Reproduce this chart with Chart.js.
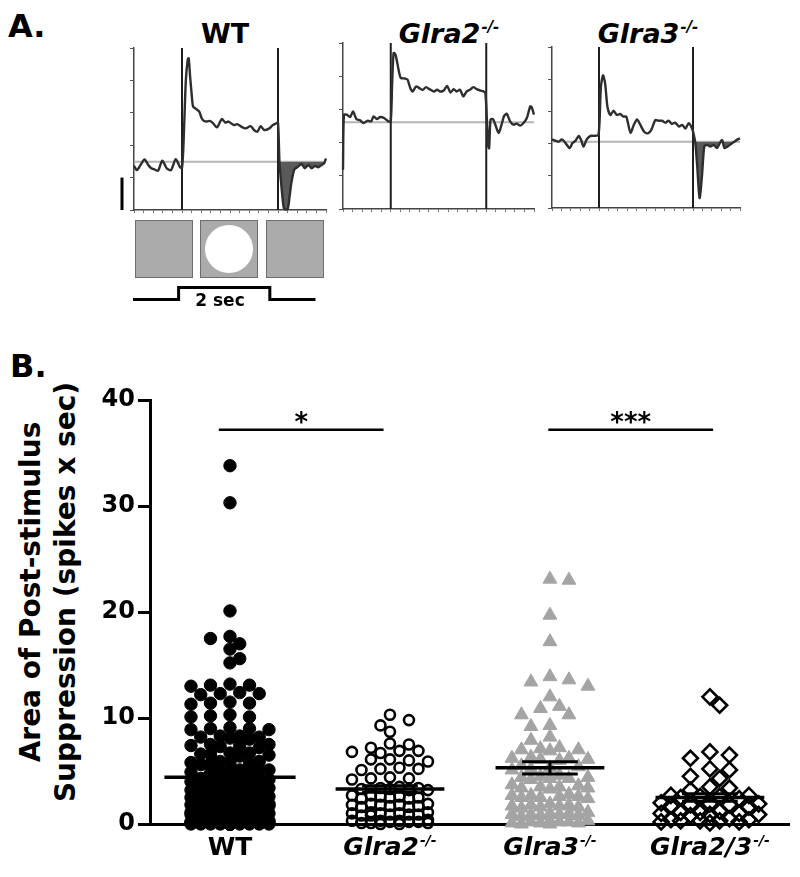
<!DOCTYPE html>
<html>
<head>
<meta charset="utf-8">
<title>Post-stimulus suppression</title>
<script src="https://cdn.jsdelivr.net/npm/chart.js@4.4.1/dist/chart.umd.min.js"></script>
<style>
  html, body { margin:0; padding:0; background:#fff; }
  body { width:800px; height:877px; position:relative; overflow:hidden;
         font-family:'DejaVu Sans', sans-serif; font-weight:bold; color:#000; }
  canvas { position:absolute; }
  .t { position:absolute; white-space:nowrap; line-height:1; }
  .c { text-align:center; }
  .sup { font-size:15px; position:relative; top:-11px; margin-left:1px; }
  .sq { position:absolute; top:220px; width:58px; height:58px; box-sizing:border-box;
        background:#ababab; border:1px solid #6e6e6e; }
  .dot { position:absolute; left:4px; top:4px; width:48px; height:48px; border-radius:50%; background:#fff; }
</style>
</head>
<body>
<div class="t" style="left:8px;top:10px;font-size:32px;">A.</div>
<div class="t c" style="left:125px;width:200px;top:20px;font-size:27px;">WT</div>
<div class="t c" style="left:349px;width:200px;top:20px;font-size:27px;font-style:italic;">Glra2<span class="sup">-/-</span></div>
<div class="t c" style="left:548px;width:200px;top:20px;font-size:27px;font-style:italic;">Glra3<span class="sup">-/-</span></div>

<canvas id="cWT"></canvas>
<canvas id="cG2"></canvas>
<canvas id="cG3"></canvas>

<div class="sq" style="left:135px;"></div>
<div class="sq" style="left:200px;"><div class="dot"></div></div>
<div class="sq" style="left:266px;"></div>
<canvas id="cStim"></canvas>
<div class="t c" style="left:170px;width:100px;top:292px;font-size:17px;">2 sec</div>

<div class="t" style="left:10px;top:350px;font-size:32px;">B.</div>
<div class="t c" style="left:-172px;top:557px;width:440px;height:70px;font-size:28px;line-height:35px;transform:rotate(-90deg);">Area of Post-stimulus<br>Suppression (spikes x sec)</div>
<canvas id="cB"></canvas>

<script>
// ================= DATA =================
// ---- Panel A: PSTH traces (time in s, rate in arbitrary spike-rate units) ----
const stimOn = 0, stimOff = 2;
const traceXMin = -1, traceXMax = 3;
const traceYMin = 0, traceYMax = 50;
const scaleBarValue = 10;

const wtTime = [-1.00,-0.94,-0.86,-0.78,-0.70,-0.64,-0.57,-0.50,-0.41,-0.32,-0.23,-0.13,-0.04,0.00,0.03,0.08,0.12,0.14,0.17,0.20,0.23,0.29,0.36,0.41,0.46,0.52,0.58,0.64,0.73,0.83,0.90,0.97,1.08,1.15,1.26,1.33,1.43,1.50,1.57,1.64,1.71,1.82,1.89,1.96,2.00,2.03,2.06,2.10,2.13,2.20,2.24,2.28,2.34,2.42,2.49,2.56,2.63,2.70,2.77,2.84,2.91,2.96,3.00];
const wtRate = [13.6,12.3,14.0,15.6,13.8,12.9,12.5,12.1,15.2,12.9,12.3,15.7,13.2,13.0,20.0,40.0,46.5,46.8,41.0,36.0,32.0,31.2,30.4,28.3,27.5,27.3,27.5,26.9,25.5,28.1,27.0,27.3,26.2,26.5,25.5,25.2,25.9,24.7,24.2,25.9,24.7,25.2,26.2,26.7,27.0,15.0,9.3,3.0,0.3,0.3,4.0,8.5,12.5,13.4,14.2,12.9,13.9,12.9,13.6,13.2,13.9,14.4,15.9];
const wtBaseline = 14.9;

const glra2Time = [-1.00,-0.98,-0.92,-0.85,-0.79,-0.72,-0.64,-0.57,-0.48,-0.41,-0.36,-0.29,-0.22,-0.14,-0.05,0.00,0.03,0.06,0.10,0.17,0.21,0.30,0.35,0.41,0.46,0.53,0.60,0.67,0.74,0.81,0.90,0.97,1.04,1.11,1.18,1.25,1.32,1.38,1.45,1.52,1.59,1.66,1.73,1.80,1.87,1.94,1.98,2.01,2.04,2.06,2.09,2.14,2.19,2.26,2.33,2.37,2.43,2.50,2.57,2.64,2.71,2.78,2.85,2.92,2.95,3.00];
const glra2Rate = [11.8,28.4,28.4,27.7,29.4,27.1,26.7,25.9,26.6,26.4,27.9,27.1,27.7,27.4,26.4,26.4,38.0,47.0,46.5,41.5,39.5,39.3,39.0,36.4,35.4,36.9,36.4,35.9,36.7,36.1,35.4,35.9,35.4,35.7,37.1,35.1,36.1,35.4,35.9,33.9,35.4,35.9,36.7,36.1,35.7,35.4,35.1,28.0,19.0,18.3,26.9,27.1,25.4,22.9,25.9,27.9,28.7,26.4,25.4,25.7,25.1,25.9,27.4,30.9,30.7,28.4];
const glra2Baseline = 26.1;

const glra3Time = [-1.00,-0.93,-0.86,-0.79,-0.72,-0.62,-0.57,-0.50,-0.43,-0.38,-0.33,-0.26,-0.18,-0.11,-0.01,0.04,0.085,0.13,0.18,0.24,0.31,0.38,0.45,0.52,0.58,0.67,0.74,0.81,0.88,0.96,1.04,1.11,1.20,1.27,1.34,1.41,1.48,1.55,1.62,1.70,1.77,1.84,1.91,1.98,2.01,2.05,2.09,2.14,2.19,2.24,2.30,2.37,2.44,2.51,2.57,2.62,2.67,2.74,2.81,2.88,2.95,3.00];
const glra3Rate = [21.3,20.9,20.6,21.3,20.3,18.6,20.1,20.9,22.4,21.1,19.1,21.3,22.4,22.4,22.7,37.6,41.2,38.7,31.4,28.9,30.2,28.9,29.2,28.4,28.4,23.4,25.8,27.5,25.8,23.7,23.2,24.2,27.3,27.1,27.1,26.5,27.1,26.1,26.5,25.3,25.8,24.7,26.3,24.7,23.2,20.1,12.9,3.1,9.8,19.1,19.6,19.1,19.6,18.6,20.1,21.1,18.6,19.1,19.9,20.6,21.3,21.6];
const glra3Baseline = 20.6;

// stimulus timing schematic
const stimTime = [-1, 0, 2, 3];
const stimLevel = [0, 1, 0, 0];

// ---- Panel B: area of post-stimulus suppression (spikes x sec) ----
const groups = ['WT', 'Glra2', 'Glra3', 'Glra2/3'];
const groupSup = ['', '-/-', '-/-', '-/-'];
const yTicksB = [0, 10, 20, 30, 40];

const wtValues = [
 33.8, 30.3, 20.1, 17.7, 17.5, 17.0, 16.5, 15.6, 15.2,
 13.1, 13.2, 13.0, 13.1, 12.3, 12.4, 12.2, 12.3, 11.4, 11.5, 11.3, 11.4,
 10.2, 10.1, 10.3, 10.1, 9.0, 9.1, 8.9, 9.0, 8.9,
 8.2, 8.3, 8.1, 8.2, 8.0, 8.3, 7.4, 7.5, 7.3, 7.4, 7.2, 7.5,
 6.6, 6.7, 6.5, 6.6, 6.4, 6.7, 5.8, 5.9, 5.7, 5.8, 5.6, 5.9, 5.7,
 5.0, 5.1, 4.9, 5.0, 4.8, 5.1, 4.9, 5.0, 4.2, 4.3, 4.1, 4.2, 4.0, 4.3, 4.1, 4.2, 4.0,
 3.4, 3.5, 3.3, 3.4, 3.2, 3.5, 3.3, 3.4, 3.2, 3.3,
 2.6, 2.7, 2.5, 2.6, 2.4, 2.7, 2.5, 2.6, 2.4, 2.5, 2.6, 2.5,
 1.8, 1.9, 1.7, 1.8, 1.6, 1.9, 1.7, 1.8, 1.6, 1.7, 1.8, 1.9, 1.7, 1.8,
 1.0, 1.1, 0.9, 1.0, 0.8, 1.1, 0.9, 1.0, 0.8, 0.9, 1.0, 1.1, 0.9, 1.0, 0.8, 1.0,
 0.3, 0.2, 0.4, 0.1, 0.3, 0.2, 0.0, 0.1, 0.3, 0.2, 0.0, 0.1, 0.2, 0.3, 0.0, 0.1, 0.2, 0.0, 0.1, 0.2,
 0.0, 0.1, 0.0, 0.2, 0.1, 0.0, 0.1, 0.0, 0.2, 0.0, 0.1, 0.0, 0.1, 0.0, 0.0, 0.1, 0.0, 0.0, 0.1, 0.0,
 0.0, 0.1, 0.0, 0.0, 0.1
];
const glra2Values = [
 10.3, 9.8, 9.3, 8.7,
 7.6, 7.5, 7.2, 6.9, 6.8, 6.9, 6.7, 6.1, 6.0, 6.1, 5.9,
 5.3, 5.2, 5.2, 5.1, 4.4, 4.3, 4.2, 4.3,
 3.4, 3.3, 3.5, 3.2, 3.3, 3.4, 3.2,
 2.6, 2.5, 2.7, 2.4, 2.6, 2.5, 2.7, 2.4,
 1.8, 1.7, 1.9, 1.6, 1.8, 1.7, 1.9, 1.6, 1.8,
 1.0, 0.9, 1.1, 0.8, 1.0, 0.9, 1.1, 0.8, 1.0, 0.9,
 0.3, 0.2, 0.4, 0.1, 0.3, 0.2, 0.0, 0.1, 0.3, 0.2, 0.0, 0.1
];
const glra3Values = [
 23.0, 23.1, 19.7, 17.2, 13.9, 13.6, 13.4, 13.0, 12.0, 11.1, 10.9, 10.3, 10.3, 9.3, 9.2,
 8.2, 7.9,
 7.1, 7.0, 7.2, 6.9, 7.0, 6.2, 6.1, 6.3, 6.0, 6.2, 6.1,
 5.4, 5.2, 5.3, 5.5, 5.1, 4.5, 4.3, 4.4, 4.6, 4.2, 4.4, 4.3,
 3.6, 3.4, 3.5, 3.7, 3.3, 3.5, 3.4, 2.7, 2.5, 2.6, 2.8, 2.4, 2.6, 2.5, 2.7,
 1.8, 1.6, 1.7, 1.9, 1.5, 1.7, 1.8, 1.6,
 0.9, 0.8, 1.0, 0.7, 1.1, 0.9, 0.8, 1.0, 0.9,
 0.2, 0.1, 0.3, 0.0, 0.2, 0.1, 0.3, 0.0, 0.2, 0.1
];
const glra23Values = [
 12.0, 11.2, 6.8, 6.5, 6.2, 5.2, 5.1, 4.5, 4.3, 3.5, 3.2, 3.4,
 2.7, 2.5, 2.6, 2.4, 2.6, 2.7,
 1.9, 1.7, 1.8, 2.0, 1.6, 1.8, 1.9,
 1.1, 0.9, 1.0, 1.2, 0.8, 1.0, 1.1, 0.9,
 0.4, 0.2, 0.3, 0.5, 0.1, 0.3, 0.2, 0.4, 0.3
];
const groupMeans = [4.4, 3.3, 5.3, 2.5];
const groupSEM = [0.35, 0.3, 0.58, 0.35];

// significance comparisons (category coordinates) and labels
const sigFrom = [-0.07, 1.99];
const sigTo = [0.96, 3.02];
const sigLabels = ['*', '***'];
const sigLevel = 37.2;

// ================= STYLE =================
Chart.defaults.font.family = "'DejaVu Sans', sans-serif";
Chart.defaults.animation = false;
Chart.defaults.events = [];
Chart.defaults.plugins.legend.display = false;
Chart.defaults.plugins.tooltip.enabled = false;

const FONT = "'DejaVu Sans', sans-serif";

// ================= PANEL A =================
function traceChart(id, box, time, rate, base, opt) {
  const cv = document.getElementById(id);
  const padL = opt.padL;
  cv.width = padL + box.w + 5;
  cv.height = 4 + box.h + 6;
  cv.style.left = (box.x - padL) + 'px';
  cv.style.top = (box.y - 4) + 'px';
  const pts = time.map((t, i) => ({x: t, y: rate[i]}));
  const ds = [
    {data: pts, borderColor: '#2e2e2e', borderWidth: 2.4, tension: 0.25, order: 0},
    {data: [{x: stimOn, y: traceYMin}, {x: stimOn, y: traceYMax}], borderColor: '#1e1e1e', borderWidth: 2, order: 1},
    {data: [{x: stimOff, y: traceYMin}, {x: stimOff, y: traceYMax}], borderColor: '#1e1e1e', borderWidth: 2, order: 1},
    {data: [{x: traceXMin, y: base}, {x: traceXMax, y: base}], borderColor: '#b5b5b5', borderWidth: 2, order: 3}
  ];
  if (opt.fill) {
    ds.push({data: pts.filter(p => p.x >= stimOff), borderWidth: 0, borderColor: 'rgba(0,0,0,0)',
      tension: 0.25, order: 2,
      fill: {target: {value: base}, above: 'rgba(0,0,0,0)', below: '#5a5a5a'}});
  }
  ds.forEach(d => { d.pointRadius = 0; d.clip = false; });
  const plugins = [];
  if (opt.scaleBar) {
    plugins.push({
      id: 'scaleBar',
      afterDraw(chart) {
        const {ctx, chartArea, scales: {y}} = chart;
        const x = chartArea.left - 12;
        ctx.save();
        ctx.strokeStyle = '#000';
        ctx.lineWidth = 3;
        ctx.beginPath();
        ctx.moveTo(x, y.getPixelForValue(0));
        ctx.lineTo(x, y.getPixelForValue(scaleBarValue));
        ctx.stroke();
        ctx.restore();
      }
    });
  }
  return new Chart(cv, {
    type: 'line',
    data: {datasets: ds},
    plugins,
    options: {
      responsive: false, devicePixelRatio: 1,
      layout: {padding: {top: 4, right: 5, left: 0, bottom: 0}},
      scales: {
        x: {type: 'linear', min: traceXMin, max: traceXMax,
            afterFit: s => { s.height = 6; },
            ticks: {display: false, stepSize: 0.2},
            grid: {drawOnChartArea: false, tickLength: 3, tickColor: '#777', tickWidth: 1},
            border: {color: '#444', width: 1.5}},
        y: {type: 'linear', min: traceYMin, max: traceYMax,
            afterFit: s => { s.width = padL; },
            ticks: {display: false, stepSize: 10},
            grid: {drawOnChartArea: false, tickLength: 4, tickColor: '#555', tickWidth: 1},
            border: {color: '#444', width: 1.5}}
      }
    }
  });
}

traceChart('cWT', {x: 134, y: 48, w: 192, h: 162}, wtTime, wtRate, wtBaseline, {padL: 18, fill: true, scaleBar: true});
traceChart('cG2', {x: 343, y: 43, w: 191, h: 166}, glra2Time, glra2Rate, glra2Baseline, {padL: 6, fill: false});
traceChart('cG3', {x: 552, y: 47, w: 188, h: 161}, glra3Time, glra3Rate, glra3Baseline, {padL: 6, fill: true});

// stimulus step line
(function () {
  const cv = document.getElementById('cStim');
  cv.width = 200; cv.height = 22;
  cv.style.left = '128px'; cv.style.top = '283px';
  new Chart(cv, {
    type: 'line',
    data: {datasets: [{
      data: stimTime.map((t, i) => ({x: t, y: stimLevel[i]})),
      stepped: 'before', borderColor: '#000', borderWidth: 3, pointRadius: 0, clip: false,
      borderJoinStyle: 'miter'
    }]},
    options: {
      responsive: false, devicePixelRatio: 1,
      layout: {padding: {left: 5, right: 8, top: 4.5, bottom: 5.5}},
      scales: {
        x: {type: 'linear', display: false, min: -1, max: 3.1},
        y: {type: 'linear', display: false, min: 0, max: 1}
      }
    }
  });
})();

// ================= PANEL B =================
const groupValues = [wtValues, glra2Values, glra3Values, glra23Values];
const groupPoint = [
  {pointStyle: 'circle', pointRadius: 6.2, pointBorderWidth: 1, pointBackgroundColor: '#000', pointBorderColor: '#000'},
  {pointStyle: 'circle', pointRadius: 5, pointBorderWidth: 2.6, pointBackgroundColor: 'rgba(0,0,0,0)', pointBorderColor: '#000'},
  {pointStyle: 'triangle', pointRadius: 8, pointBorderWidth: 1, pointBackgroundColor: '#a4a4a4', pointBorderColor: '#a4a4a4'},
  {pointStyle: 'rectRot', pointRadius: 7.5, pointBorderWidth: 2.6, pointBackgroundColor: 'rgba(0,0,0,0)', pointBorderColor: '#000'}
];
const swarmLayout = [
  {step: 9.75, dist: 10.5, maxHalf: 42},
  {step: 9.5, dist: 11, maxHalf: 46},
  {step: 9.5, dist: 11.5, maxHalf: 45},
  {step: 9.75, dist: 12.5, maxHalf: 49}
];
const meanHalfWidth = [0.41, 0.34, 0.34, 0.34];
const semCapHalfWidth = 0.174;

function swarm(values, pxPerY, opt) {
  const order = values.map((v, i) => i).sort((a, b) => values[b] - values[a]);
  const placed = [];
  const out = new Array(values.length);
  const maxK = Math.floor(opt.maxHalf / opt.step + 1e-6);
  order.forEach((i, n) => {
    const py = values[i] * pxPerY;
    let best = 0, bestScore = -1, done = false;
    for (let k = 0; k <= maxK && !done; k++) {
      let cands = k === 0 ? [0] : [-k * opt.step, k * opt.step];
      if (n % 2) cands = cands.reverse();
      for (const dx of cands) {
        let minD = Infinity;
        for (const p of placed) {
          if (Math.abs(p.py - py) >= opt.dist) continue;
          const d = Math.hypot(p.dx - dx, p.py - py);
          if (d < minD) minD = d;
        }
        if (minD >= opt.dist) { best = dx; done = true; break; }
        if (minD > bestScore) { bestScore = minD; best = dx; }
      }
    }
    placed.push({dx: best, py});
    out[i] = best;
  });
  return out;
}

const datasetsB = groupValues.map((vals, g) => Object.assign({
  label: groups[g],
  data: vals.map(v => ({x: g, y: v})),
  showLine: false, clip: false, order: 2
}, groupPoint[g]));

function lineDs(pts, w) {
  return {data: pts, showLine: true, borderColor: '#000', borderWidth: w, pointRadius: 0,
          clip: false, order: 1, borderCapStyle: 'butt'};
}
groups.forEach((g, i) => {
  const m = groupMeans[i], s = groupSEM[i], hw = meanHalfWidth[i], cw = semCapHalfWidth;
  datasetsB.push(lineDs([{x: i - hw, y: m}, {x: i + hw, y: m}], 3.5));
  datasetsB.push(lineDs([{x: i, y: m - s}, {x: i, y: m + s}], 3));
  datasetsB.push(lineDs([{x: i - cw, y: m + s}, {x: i + cw, y: m + s}], 3));
  datasetsB.push(lineDs([{x: i - cw, y: m - s}, {x: i + cw, y: m - s}], 3));
});
sigFrom.forEach((f, k) => datasetsB.push(lineDs([{x: f, y: sigLevel}, {x: sigTo[k], y: sigLevel}], 2.5)));

const labelsPlugin = {
  id: 'labelsB',
  afterDraw(chart) {
    const {ctx, chartArea, scales: {x, y}} = chart;
    ctx.save();
    ctx.fillStyle = '#000';
    ctx.textBaseline = 'alphabetic';
    const base = chartArea.bottom + 31;
    groups.forEach((g, i) => {
      const mainFont = (i > 0 ? 'italic ' : '') + 'bold 25px ' + FONT;
      const supFont = 'italic bold 14px ' + FONT;
      ctx.font = mainFont;
      const w1 = ctx.measureText(g).width;
      ctx.font = supFont;
      const w2 = groupSup[i] ? ctx.measureText(groupSup[i]).width + 1 : 0;
      const x0 = x.getPixelForValue(i) - (w1 + w2) / 2;
      ctx.textAlign = 'left';
      ctx.font = mainFont;
      ctx.fillText(g, x0, base);
      if (w2) { ctx.font = supFont; ctx.fillText(groupSup[i], x0 + w1 + 1, base - 10); }
    });
    ctx.font = 'bold 26px ' + FONT;
    ctx.textAlign = 'center';
    sigLabels.forEach((lab, k) => {
      const cx = (x.getPixelForValue(sigFrom[k]) + x.getPixelForValue(sigTo[k])) / 2;
      ctx.fillText(lab, cx, y.getPixelForValue(sigLevel) + 1);
    });
    ctx.restore();
  }
};

const cB = document.getElementById('cB');
cB.width = 800; cB.height = 517;
cB.style.left = '0px'; cB.style.top = '360px';
const chartB = new Chart(cB, {
  type: 'scatter',
  data: {datasets: datasetsB},
  plugins: [labelsPlugin],
  options: {
    responsive: false, devicePixelRatio: 1,
    layout: {padding: {top: 40, right: 10, left: 0, bottom: 0}},
    scales: {
      x: {type: 'linear', min: -0.5, max: 3.5, z: 1,
          afterFit: s => { s.height = 53; },
          ticks: {display: false},
          grid: {display: false},
          border: {display: true, color: '#000', width: 3}},
      y: {type: 'linear', min: 0, max: 40,
          afterFit: s => { s.width = 150; },
          afterBuildTicks: s => { s.ticks = yTicksB.map(v => ({value: v})); },
          ticks: {color: '#000', padding: 3, font: {family: FONT, size: 24, weight: 'bold'}},
          grid: {drawOnChartArea: false, drawTicks: true, tickLength: 12, tickWidth: 3, tickColor: '#000'},
          border: {display: true, color: '#000', width: 3}}
    }
  }
});

// beeswarm horizontal spread computed from the library's scales
(function () {
  const xs = chartB.scales.x, ys = chartB.scales.y;
  const pxX = xs.getPixelForValue(1) - xs.getPixelForValue(0);
  const pxY = ys.getPixelForValue(0) - ys.getPixelForValue(1);
  groupValues.forEach((vals, g) => {
    const off = swarm(vals, pxY, swarmLayout[g]);
    chartB.data.datasets[g].data = vals.map((v, i) => ({x: g + off[i] / pxX, y: v}));
  });
  chartB.update();
})();
</script>
</body>
</html>
